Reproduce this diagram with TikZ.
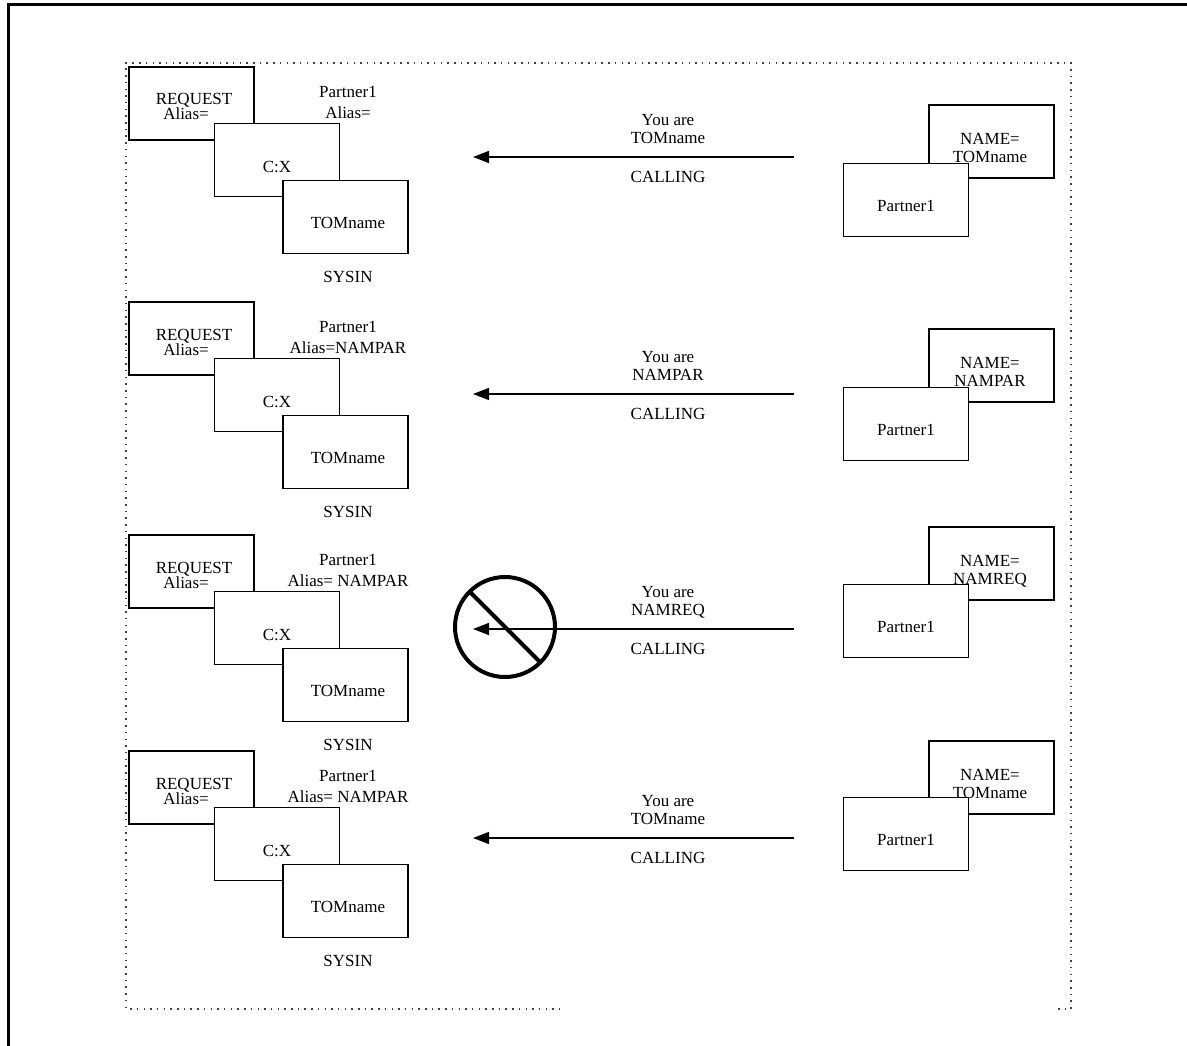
\documentclass[tikz,border=0pt]{standalone}
\usepackage{fontspec}
\setmainfont{Liberation Serif}
\usetikzlibrary{arrows.meta}
\tikzset{
  box/.style={draw, line width=1.4pt, fill=white, minimum width=125pt,
    minimum height=73pt, inner sep=0pt, outer sep=0pt},
  txt/.style={font=\fontsize{17}{18}\selectfont, inner sep=0pt,
    anchor=base, align=center},
  callarrow/.style={line width=1.4pt, -{Triangle[length=16pt,width=12pt]}},
  dotline/.style={line width=1.5pt, dash pattern=on 1.5pt off 5.2pt, draw=black!75},
  frameline/.style={line width=3pt},
}
\begin{document}
\begin{tikzpicture}[x=1pt,y=-1pt]
\useasboundingbox (0,0) rectangle (1187,1046);

% outer frame (top and left edges)
\coordinate (fbl) at (8,1046);
\coordinate (ftl) at (8,5);
\coordinate (ftr) at (1187,5);
\draw[frameline] (fbl) -- (ftl) -- (ftr);

% dotted inner frame
\coordinate (dtl) at (126,63);
\coordinate (dtr) at (1071,63);
\coordinate (dbr) at (1071,1009);
\coordinate (dbre) at (1058,1009);
\coordinate (dbl) at (126,1009);
\coordinate (dble) at (560,1009);
\draw[dotline] (dbre) -- (dbr) -- (dtr) -- (dtl) -- (dbl) -- (dble);

% left side: REQUEST / C:X / TOMname stacks
% (multi-line nodes are placed by the baseline of their last line)
\foreach \i/\T/\alias in {1/67/{Alias=}, 2/302/{Alias=NAMPAR},
                          3/535/{Alias= NAMPAR}, 4/751/{Alias= NAMPAR}} {
  \node[box] (req\i) at (191.5,\T+36.5) {};
  \node[txt] (reqa\i) at (194,\T+38) {REQUEST};
  \node[txt] (reqb\i) at (186,\T+53) {Alias=};
  \node[box] (cx\i) at (277,\T+93) {};
  \node[txt] (cxt\i) at (277,\T+105.6) {C:X};
  \node[box] (tom\i) at (345.5,\T+150) {};
  \node[txt] (tomt\i) at (348,\T+161.6) {TOMname};
  \node[txt] (par\i) at (348,\T+51.6) {Partner1\\[3pt]\alias};
  \node[txt] (sys\i) at (348,\T+215.6) {SYSIN};
}

% right side: partner boxes and CALLING arrows
\foreach \i/\A/\NT/\P/\nm in {1/157/105/163/TOMname, 2/394/329/387/NAMPAR,
                              3/629/527/584/NAMREQ, 4/838/741/797/TOMname} {
  \node[box] (nmb\i) at (991.5,\NT+36.5) {};
  \node[box] (ptb\i) at (906,\P+37) {};
  \node[txt] (ptt\i) at (906,\P+48.6) {Partner1};
  \node[txt] (nmt\i) at (990,\NT+57.6) {NAME=\\\nm};
  \coordinate (src\i) at (794,\A);
  \coordinate (dst\i) at (473,\A);
  \draw[callarrow] (src\i) -- (dst\i);
  \node[txt] (you\i) at (668,\A-13.4) {You are\\\nm};
  \node[txt] (cal\i) at (668,\A+25.6) {CALLING};
}

% prohibition sign over the third call
\node[draw, circle, line width=4pt, minimum size=100pt, inner sep=0pt] (noentry) at (505,627) {};
\draw[line width=4pt, shorten <=3pt, shorten >=3pt] (noentry.135) -- (noentry.-45);
\end{tikzpicture}
\end{document}
